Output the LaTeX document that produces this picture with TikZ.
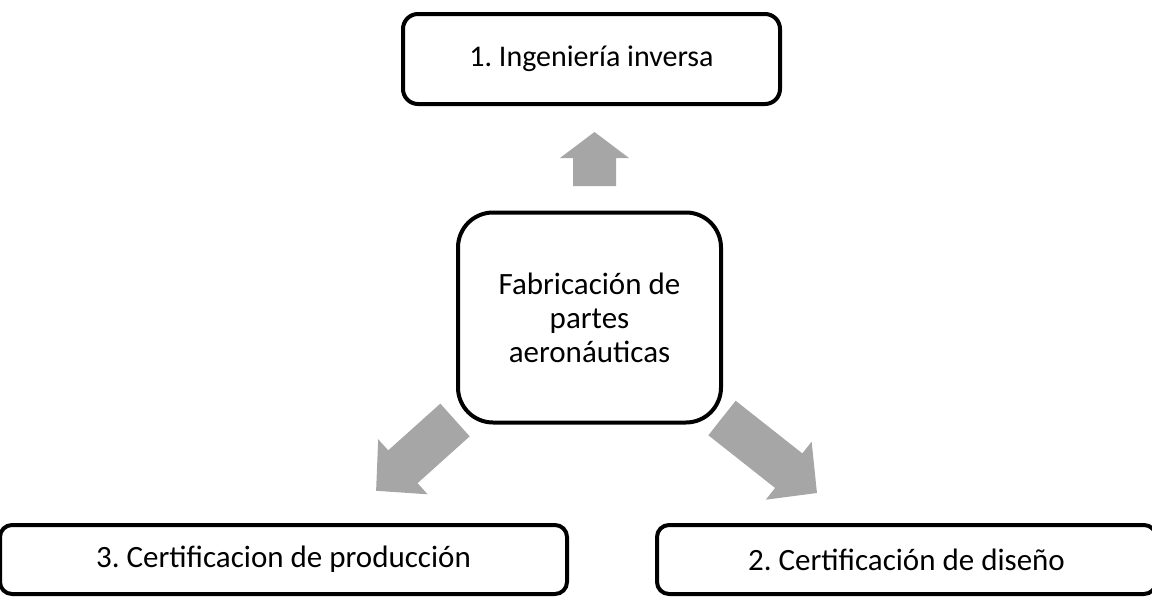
\documentclass[tikz,border=0pt]{standalone}
\usepackage{fontspec}
\setmainfont{Carlito}
\frenchspacing
\definecolor{arrowgray}{HTML}{A6A6A6}
\tikzset{
  box/.style={draw=black, line width=4pt, fill=white, inner sep=0pt, align=center},
  blockarrow/.style={fill=arrowgray, draw=none}
}
\begin{document}
\begin{tikzpicture}[x=1pt,y=-1pt]
\useasboundingbox (0,0) rectangle (1152,597);
% boxes
\node[box, rounded corners=15pt, minimum width=377pt, minimum height=90pt,
  font=\fontsize{30}{36}\selectfont] (top) at (591.5,59) {1. Ingeniería inversa};
\node[box, rounded corners=35pt, minimum width=263pt, minimum height=210pt,
  font=\fontsize{31}{34}\selectfont] (center) at (589.5,317.5) {Fabricación de\\partes\\aeronáuticas};
\node[box, rounded corners=12pt, minimum width=567pt, minimum height=69pt,
  font=\fontsize{31}{36}\selectfont] (prod) at (283.5,559.5) {3. Certificacion de producción};
\node[box, rounded corners=12pt, minimum width=499pt, minimum height=69pt,
  font=\fontsize{31}{36}\selectfont] (dise) at (906.5,559.5) {2. Certificación de diseño};
% block arrows
\begin{scope}[shift={(594.5,186)}, rotate=90]
  \fill[blockarrow] (0,-21.5) -- (28,-21.5) -- (28,-34.5) -- (54,0) -- (28,34.5) -- (28,21.5) -- (0,21.5) -- cycle;
\end{scope}
\begin{scope}[shift={(455,420)}, rotate=221.9]
  \fill[blockarrow] (0,-22) -- (70,-22) -- (70,-37) -- (106,0) -- (70,37) -- (70,22) -- (0,22) -- cycle;
\end{scope}
\begin{scope}[shift={(722,418)}, rotate=-38.3]
  \fill[blockarrow] (0,-22) -- (85,-22) -- (85,-37) -- (121,0) -- (85,37) -- (85,22) -- (0,22) -- cycle;
\end{scope}
\end{tikzpicture}
\end{document}
